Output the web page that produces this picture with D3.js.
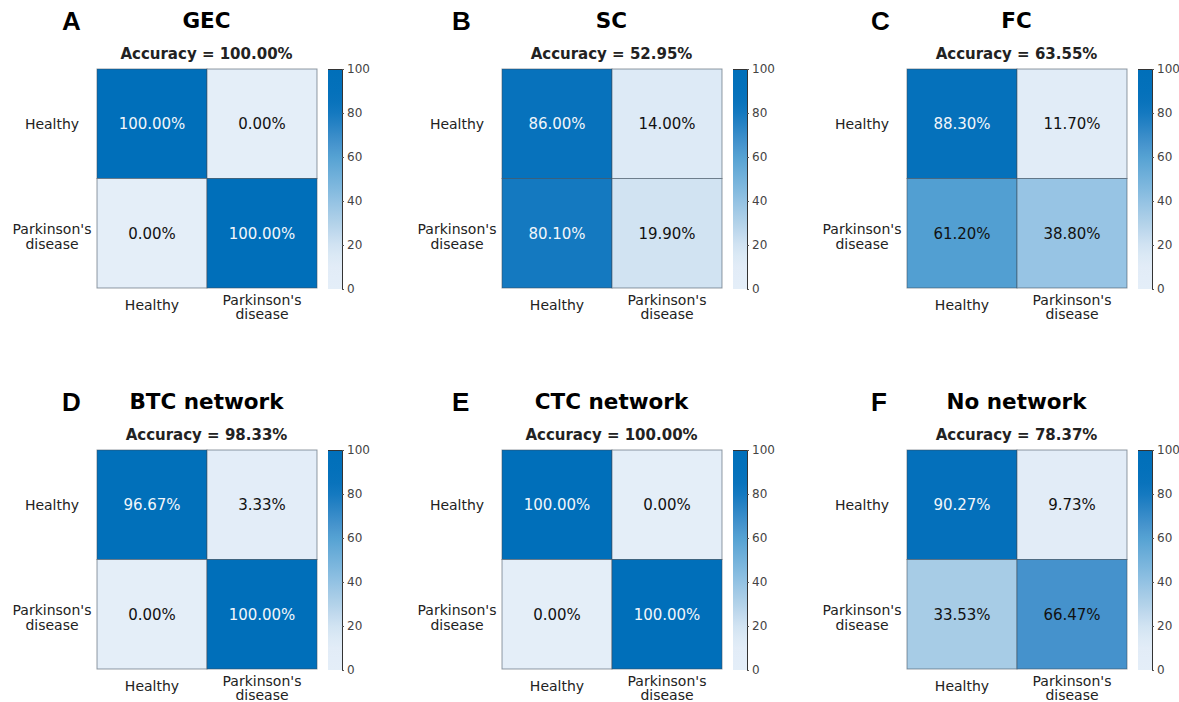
<!DOCTYPE html>
<html>
<head>
<meta charset="utf-8">
<script src="https://cdn.jsdelivr.net/npm/d3@7"></script>
<style>
  html, body { margin: 0; padding: 0; background: #fff; }
  svg { display: block; }
  .tick-lbl { font-family: "DejaVu Sans", Verdana, sans-serif; font-size: 14px; fill: #222; }
  .cell-lbl { font-family: "DejaVu Sans", Verdana, sans-serif; font-size: 15px; }
  .acc { font-family: "DejaVu Sans", Verdana, sans-serif; font-size: 15px; font-weight: bold; fill: #222; }
  .ptitle { font-family: "DejaVu Sans", Verdana, sans-serif; font-size: 21.5px; font-weight: bold; fill: #000; }
  .letter { font-family: "Liberation Sans", Arial, sans-serif; font-size: 26px; font-weight: bold; fill: #000; }
  .cbar text { font-family: "DejaVu Sans", sans-serif; font-size: 12px; fill: #444; }
</style>
</head>
<body>
<div id="chart"></div>
<script>
// Panel data
const letters = ["A", "B", "C", "D", "E", "F"];
const titles = ["GEC", "SC", "FC", "BTC network", "CTC network", "No network"];
const accuracies = ["100.00%", "52.95%", "63.55%", "98.33%", "100.00%", "78.37%"];
// rows: true class, columns: predicted class, [HH, HP, PH, PP]
const matrices = [
    [100.00, 0.00, 0.00, 100.00],
    [86.00, 14.00, 80.10, 19.90],
    [88.30, 11.70, 61.20, 38.80],
    [96.67, 3.33, 0.00, 100.00],
    [100.00, 0.00, 0.00, 100.00],
    [90.27, 9.73, 33.53, 66.47]
];
const classLabels = [["Healthy"], ["Parkinson's", "disease"]];
const cbarTicks = [0, 20, 40, 60, 80, 100];
// colour stops
const colorStops = [0, 12, 20, 34, 39, 61, 66.5, 80, 87, 100];
const colorRange = ["#e4eef8", "#e1ecf7", "#d1e3f2", "#a6cbe6", "#96c4e4", "#52a0d2", "#4592cc", "#1479c0", "#0571bb", "#006fba"];

const W = 1179, H = 702;
const svg = d3.select("#chart").append("svg").attr("width", W).attr("height", H);

const color = d3.scaleLinear().domain(colorStops).range(colorRange).interpolate(d3.interpolateRgb);

// gradient for colorbar
const defs = svg.append("defs");
const grad = defs.append("linearGradient").attr("id", "cbgrad")
    .attr("x1", 0).attr("y1", 1).attr("x2", 0).attr("y2", 0);
d3.range(0, 101, 5).forEach(v => {
    grad.append("stop").attr("offset", v + "%").attr("stop-color", color(v));
});

const colX = [97, 502, 907];
const rowY = [69, 450];
const size = 219;

matrices.forEach((m, i) => {
    const left = colX[i % 3], top = rowY[Math.floor(i / 3)];
    const g = svg.append("g").attr("transform", `translate(${left},${top})`);

    const x = d3.scaleBand().domain([0, 1]).range([0, size + 1]);
    const y = d3.scaleBand().domain([0, 1]).range([0, size]);

    const cells = m.map((v, k) => ({ r: Math.floor(k / 2), c: k % 2, v }));

    g.selectAll("rect.cell").data(cells).enter().append("rect")
        .attr("class", "cell")
        .attr("x", d => x(d.c)).attr("y", d => y(d.r))
        .attr("width", x.bandwidth()).attr("height", y.bandwidth())
        .attr("fill", d => color(d.v))
        .attr("stroke", "#3a4a5a").attr("stroke-opacity", 0.55).attr("stroke-width", 1);

    g.selectAll("text.cell-lbl").data(cells).enter().append("text")
        .attr("class", "cell-lbl")
        .attr("x", d => x(d.c) + x.bandwidth() / 2)
        .attr("y", d => y(d.r) + y.bandwidth() / 2)
        .attr("text-anchor", "middle").attr("dy", "0.35em")
        .attr("fill", d => d.v > 70 ? "#f2f6fa" : "#111")
        .text(d => d.v.toFixed(2) + "%");

    // row labels (centred block to the left of the matrix)
    classLabels.forEach((lines, r) => {
        const cyMid = y(r) + y.bandwidth() / 2;
        lines.forEach((ln, j) => {
            g.append("text").attr("class", "tick-lbl").attr("text-anchor", "middle")
                .attr("x", -45)
                .attr("y", lines.length === 1 ? cyMid + 5 : cyMid + 1 + j * 14.5)
                .text(ln);
        });
    });
    // column labels
    classLabels.forEach((lines, c) => {
        const cx = x(c) + x.bandwidth() / 2;
        lines.forEach((ln, j) => {
            g.append("text").attr("class", "tick-lbl").attr("text-anchor", "middle")
                .attr("x", cx)
                .attr("y", lines.length === 1 ? size + 22 : size + 17 + j * 14)
                .text(ln);
        });
    });

    // titles
    g.append("text").attr("class", "acc").attr("text-anchor", "middle")
        .attr("x", size / 2).attr("y", -10).text("Accuracy = " + accuracies[i]);
    g.append("text").attr("class", "ptitle").attr("text-anchor", "middle")
        .attr("x", size / 2).attr("y", -41).text(titles[i]);
    const letterX = [62, 452, 871][i % 3] - left;
    g.append("text").attr("class", "letter")
        .attr("x", letterX).attr("y", -39).text(letters[i]);

    // colorbar
    const cb = g.append("g").attr("class", "cbar").attr("transform", `translate(${size + 12},0)`);
    const cbW = 14;
    const cy = d3.scaleLinear().domain([0, 100]).range([size + 1, 0]);
    cb.append("rect").attr("width", cbW).attr("height", size + 1).attr("fill", "url(#cbgrad)");
    const axis = cb.append("g").attr("transform", `translate(${cbW},0)`)
        .call(d3.axisRight(cy).tickValues(cbarTicks).tickSize(2).tickPadding(3));
    axis.select(".domain").attr("stroke", "#333");
    axis.selectAll(".tick line").attr("stroke", "#555");
    cb.append("line").attr("x1", 0).attr("x2", cbW).attr("y1", 0.5).attr("y2", 0.5)
        .attr("stroke", "#333").attr("stroke-width", 1);
});
</script>
</body>
</html>
